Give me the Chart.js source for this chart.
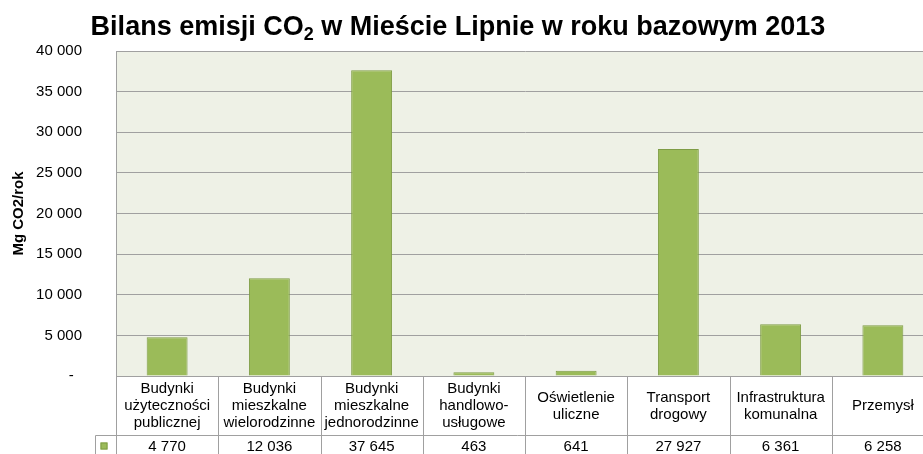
<!DOCTYPE html>
<html>
<head>
<meta charset="utf-8">
<script src="https://cdn.jsdelivr.net/npm/chart.js@4.4.0/dist/chart.umd.min.js"></script>
<style>
  html, body { margin: 0; padding: 0; background: #fff; overflow: hidden; }
  #wrap { position: absolute; left: 0; top: 0; width: 940px; height: 470px; }
</style>
</head>
<body>
<div id="wrap"><canvas id="chart" width="940" height="470"></canvas></div>
<script>
// title pieces: "CO" + subscript "2"
const titleStart = "Bilans emisji CO";
const titleSub = "2";
const titleEnd = " w Mieście Lipnie w roku bazowym 2013";
const axisTitle = "Mg CO2/rok";

// category labels as shown in the data table, one line per entry
const categories = [
    ["Budynki", "użyteczności", "publicznej"],
    ["Budynki", "mieszkalne", "wielorodzinne"],
    ["Budynki", "mieszkalne", "jednorodzinne"],
    ["Budynki", "handlowo-", "usługowe"],
    ["Oświetlenie", "uliczne"],
    ["Transport", "drogowy"],
    ["Infrastruktura", "komunalna"],
    ["Przemysł"]
];
const emissions = [4770, 12036, 37645, 463, 641, 27927, 6361, 6258];
const yTickLabels = ["-  ", "5 000", "10 000", "15 000", "20 000", "25 000", "30 000", "35 000", "40 000"];

const FONT = "'Liberation Sans', Arial, sans-serif";
const LINE = "#A0A0A0";
const BAR = "#9BBB59";
const BAR_EDGE = "#7E9C45";

function formatNumber(v) {
    return String(v).replace(/\B(?=(\d{3})+(?!\d))/g, " ");
}

// plot background + title
const backgroundPlugin = {
    id: 'background',
    beforeDraw(chart) {
        const { ctx, chartArea } = chart;
        ctx.save();
        ctx.fillStyle = "#EEF1E6";
        ctx.fillRect(chartArea.left, chartArea.top, chartArea.right - chartArea.left, chartArea.bottom - chartArea.top);

        const mainFont = "bold 27px " + FONT;
        const subFont = "bold 18px " + FONT;
        ctx.font = mainFont;
        const w1 = ctx.measureText(titleStart).width;
        const w3 = ctx.measureText(titleEnd).width;
        ctx.font = subFont;
        const w2 = ctx.measureText(titleSub).width;
        let x = 458 - (w1 + w2 + w3) / 2;

        ctx.fillStyle = "#000";
        ctx.textAlign = "left";
        ctx.textBaseline = "alphabetic";
        ctx.font = mainFont;
        ctx.fillText(titleStart, x, 35);
        x += w1;
        ctx.font = subFont;
        ctx.fillText(titleSub, x, 40);
        x += w2;
        ctx.font = mainFont;
        ctx.fillText(titleEnd, x, 35);
        ctx.restore();
    }
};

// data table under the x axis
const dataTablePlugin = {
    id: 'dataTable',
    afterDraw(chart) {
        const { ctx, chartArea } = chart;
        const xScale = chart.scales.x;
        const n = categories.length;
        const colW = (chartArea.right - chartArea.left) / n;
        const top = Math.round(chartArea.bottom) + 0.5;
        const mid = top + 59;
        const bottom = chart.height + 2;
        const left = Math.round(chartArea.left) + 0.5;
        const keyLeft = left - 21;

        ctx.save();
        ctx.strokeStyle = LINE;
        ctx.lineWidth = 1;
        ctx.beginPath();
        ctx.moveTo(left, top); ctx.lineTo(chart.width, top);
        ctx.moveTo(keyLeft, mid); ctx.lineTo(chart.width, mid);
        ctx.moveTo(keyLeft, mid); ctx.lineTo(keyLeft, bottom);
        for (let i = 0; i <= n; i++) {
            const x = Math.round(chartArea.left + i * colW) + 0.5;
            ctx.moveTo(x, top); ctx.lineTo(x, bottom);
        }
        ctx.stroke();

        // legend key
        ctx.fillStyle = BAR;
        ctx.fillRect(keyLeft + 5, mid + 7, 7, 7);
        ctx.strokeStyle = BAR_EDGE;
        ctx.strokeRect(keyLeft + 5.5, mid + 7.5, 6, 6);

        ctx.fillStyle = "#000";
        ctx.font = "15px " + FONT;
        ctx.textAlign = "center";
        ctx.textBaseline = "middle";
        const lh = 17;
        categories.forEach((lines, i) => {
            const cx = xScale.getPixelForValue(i);
            const startY = (top + mid) / 2 - (lines.length - 1) * lh / 2;
            lines.forEach((t, j) => ctx.fillText(t, cx, startY + j * lh));
            ctx.fillText(formatNumber(emissions[i]), cx, mid + 11);
        });
        ctx.restore();
    }
};

new Chart(document.getElementById("chart"), {
    type: 'bar',
    data: {
        labels: categories.map(c => c.join(" ")),
        datasets: [{
            data: emissions,
            backgroundColor: BAR,
            borderColor: BAR_EDGE,
            borderWidth: 1,
            barPercentage: 0.4,
            categoryPercentage: 1
        }]
    },
    options: {
        responsive: false,
        animation: false,
        devicePixelRatio: 1,
        layout: { padding: { top: 51, right: 6, bottom: 94, left: 0 } },
        plugins: {
            legend: { display: false },
            tooltip: { enabled: false }
        },
        scales: {
            x: { display: false },
            y: {
                min: 0,
                max: 40000,
                afterFit: s => { s.width = 116; },
                ticks: {
                    stepSize: 5000,
                    padding: 34,
                    color: "#000",
                    font: { family: FONT, size: 15 },
                    callback: (v, i) => yTickLabels[i]
                },
                grid: { color: LINE, lineWidth: 1, drawTicks: false },
                border: { color: LINE },
                title: {
                    display: true,
                    text: axisTitle,
                    color: "#000",
                    font: { family: FONT, size: 15, weight: 'bold' },
                    padding: { top: 10, bottom: 0 }
                }
            }
        }
    },
    plugins: [backgroundPlugin, dataTablePlugin]
});
</script>
</body>
</html>
